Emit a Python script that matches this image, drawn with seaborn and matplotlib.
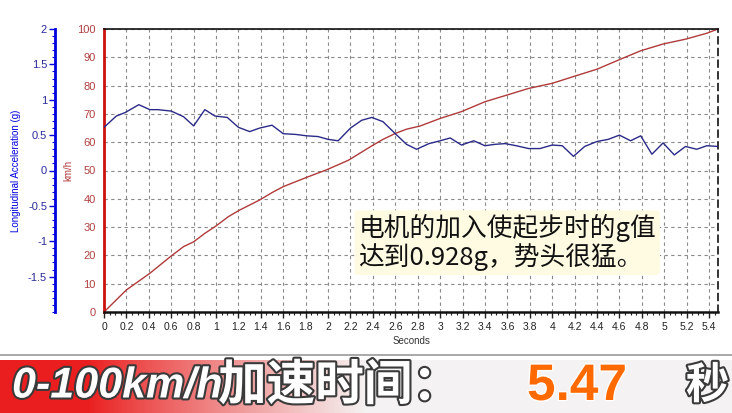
import numpy as np
import pandas as pd
import matplotlib
matplotlib.use("Agg")
import matplotlib.pyplot as plt
import matplotlib.patheffects as pe
from matplotlib.ticker import MultipleLocator, FuncFormatter
import seaborn as sns

# === Data
speed_t = [0.0, 0.2, 0.41, 0.6, 0.71, 0.8, 0.9, 1.0, 1.11, 1.21, 1.39, 1.5, 1.6, 1.81,
           1.99, 2.18, 2.39, 2.49, 2.6, 2.7, 2.82, 3.0, 3.19, 3.4, 3.6, 3.79, 4.0,
           4.19, 4.4, 4.59, 4.79, 4.99, 5.19, 5.38, 5.48]
speed_kmh = [0.0, 7.8, 13.7, 19.8, 23.1, 24.8, 27.8, 30.4, 33.7, 36.0, 39.6, 42.2, 44.3, 47.6,
             50.3, 53.6, 58.7, 61.0, 63.1, 64.6, 65.7, 68.4, 70.8, 74.3, 76.7, 79.0, 80.8,
             83.2, 85.8, 89.0, 92.3, 94.7, 96.4, 98.5, 100.0]

acc_t = [0.0, 0.11, 0.19, 0.31, 0.41, 0.48, 0.6, 0.71, 0.8, 0.9, 0.99, 1.1, 1.2, 1.3,
         1.39, 1.5, 1.6, 1.71, 1.81, 1.91, 2.0, 2.09, 2.2, 2.3, 2.39, 2.49, 2.6, 2.7,
         2.79, 2.9, 3.0, 3.09, 3.19, 3.3, 3.4, 3.49, 3.58, 3.68, 3.79, 3.89, 4.0, 4.09,
         4.19, 4.29, 4.4, 4.5, 4.6, 4.7, 4.79, 4.89, 4.99, 5.09, 5.19, 5.29, 5.38, 5.48]
acc_g = [0.61, 0.77, 0.82, 0.93, 0.86, 0.86, 0.84, 0.76, 0.63, 0.86, 0.77, 0.75, 0.61, 0.55,
         0.60, 0.64, 0.52, 0.51, 0.49, 0.48, 0.44, 0.42, 0.60, 0.71, 0.75, 0.69, 0.52, 0.37,
         0.30, 0.38, 0.42, 0.46, 0.36, 0.42, 0.35, 0.37, 0.38, 0.35, 0.31, 0.31, 0.36, 0.35,
         0.20, 0.34, 0.41, 0.44, 0.50, 0.42, 0.49, 0.23, 0.39, 0.22, 0.34, 0.30, 0.35, 0.34]

x_ticks = [round(0.2 * i, 1) for i in range(28)]
kmh_ticks = list(range(0, 101, 10))
g_ticks = [-1.5, -1, -0.5, 0, 0.5, 1, 1.5, 2]

note = "电机的加入使起步时的g值\n达到0.928g，势头很猛。"
banner_latin = "0-100km/h"
banner_cjk = "加速时间："
banner_value = "5.47"
banner_unit = "秒"

df_speed = pd.DataFrame({"t": speed_t, "v": speed_kmh})
df_acc = pd.DataFrame({"t": acc_t, "g": acc_g})

sns.set_theme(style="white")
plt.rcParams["font.family"] = ["Liberation Sans", "Noto Sans CJK SC", "DejaVu Sans"]

fig = plt.figure(figsize=(7.32, 4.13), dpi=100)
fig.patch.set_facecolor("white")

pos = [104 / 732, 1 - 312 / 413, 614 / 732, 283 / 413]
ax = fig.add_axes(pos)
ax2 = fig.add_axes(pos, sharex=ax)
ax2.patch.set_visible(False)

red = "#cc1111"
blue = "#0000dd"

# === speed (km/h)
sns.lineplot(data=df_speed, x="t", y="v", ax=ax, color="#b03a3a", lw=1.0)
ax.set_xlim(0, 5.48)
ax.set_ylim(0, 100)
ax.set_yticks(kmh_ticks)
ax.set_xticks(x_ticks)
ax.xaxis.set_major_formatter(FuncFormatter(lambda v, p: f"{v:g}"))
ax.xaxis.set_minor_locator(MultipleLocator(0.05))
ax.grid(True, color="#8a8a8a", ls=(0, (3, 3)), lw=0.8)
ax.set_xlabel("Seconds", fontsize=7, color="#333333", labelpad=3)
ax.set_ylabel("km/h", fontsize=7, color="#b03a3a", labelpad=3)
ax.tick_params(axis="y", colors="#b04040", labelsize=8, length=4, width=1,
               direction="out", pad=2)
ax.tick_params(axis="y", which="major", color=red)
ax.tick_params(axis="x", labelsize=7.5, colors="#222222", length=4, width=1, pad=3,
               direction="out", bottom=True)
ax.tick_params(axis="x", which="minor", length=2, width=0.8, bottom=True, color="#222222")
ax.spines["left"].set_color(red)
ax.spines["left"].set_linewidth(2)
ax.spines["bottom"].set_color("#111111")
ax.spines["bottom"].set_linewidth(1.8)
ax.spines["top"].set_color("#111111")
ax.spines["top"].set_linewidth(1.2)
ax.spines["right"].set_color("#111111")
ax.spines["right"].set_linestyle((0, (4, 3)))
ax.spines["right"].set_linewidth(1.2)

# === acceleration (g)
sns.lineplot(data=df_acc, x="t", y="g", ax=ax2, color="#2a2a88", lw=1.0)
ax2.set_ylim(-2, 2)
ax2.set_yticks(g_ticks)
ax2.yaxis.set_major_formatter(FuncFormatter(lambda v, p: f"{v:g}"))
ax2.yaxis.set_minor_locator(MultipleLocator(0.1))
ax2.set_xlabel("")
ax2.set_ylabel("Longitudinal Acceleration (g)", fontsize=7, color=blue, labelpad=5)
ax2.tick_params(axis="x", bottom=False, labelbottom=False)
ax2.tick_params(axis="y", colors="#2a2a99", labelsize=8, length=4, width=1, left=True,
                direction="out", pad=2)
ax2.tick_params(axis="y", which="major", color=blue)
ax2.tick_params(axis="y", which="minor", length=2, width=0.8, left=True, color=blue)
for s in ["top", "right", "bottom"]:
    ax2.spines[s].set_visible(False)
ax2.spines["left"].set_position(("outward", 35))
ax2.spines["left"].set_color(blue)
ax2.spines["left"].set_linewidth(2)

# === annotation
ax.text(2.27, 24.5, note, fontsize=18.5, color="#111111", ha="left", va="center",
        linespacing=1.05, family=["Noto Sans CJK SC", "DejaVu Sans"], style="italic",
        bbox=dict(boxstyle="round,pad=0.15", facecolor="#fffbe3", edgecolor="none"),
        zorder=5)

# === separator and banner
fig.add_artist(plt.Line2D([0, 1], [1 - 355 / 413, 1 - 355 / 413], color="#999999", lw=1.2))
bax = fig.add_axes([0, 0, 1, 53 / 413])
bax.set_axis_off()
xs = np.linspace(0, 1, 400)
w = np.clip((xs - 0.12) / 0.38, 0, 1) ** 0.9
r = 0.92 * (1 - w) + 0.96 * w
g = 0.12 * (1 - w) + 0.95 * w
b = 0.12 * (1 - w) + 0.95 * w
grad = np.dstack([r, g, b]).repeat(20, axis=0)
bax.imshow(grad, aspect="auto", extent=[0, 1, 0, 1])
bax.set_xlim(0, 1)
bax.set_ylim(0, 1)
stroke = [pe.withStroke(linewidth=3, foreground="#3a3a3a")]
bfam = ["Noto Sans CJK SC", "DejaVu Sans"]
bax.text(12 / 732, 0.50, banner_latin, fontsize=31, color="white", weight="bold",
         style="italic", family=["Liberation Sans"], ha="left", va="center",
         path_effects=stroke)
bax.text(218 / 732, 0.52, banner_cjk, fontsize=35, color="white", weight="black",
         family=bfam, ha="left", va="center", path_effects=stroke)
bax.text(527 / 732, 0.50, banner_value, fontsize=37, color="#ff6a00", weight="bold",
         family=["Liberation Sans"], ha="left", va="center",
         path_effects=[pe.withStroke(linewidth=2, foreground="#ffffff")])
bax.text(686 / 732, 0.52, banner_unit, fontsize=31, color="white", weight="black",
         family=bfam, ha="left", va="center", path_effects=stroke)

fig.savefig("out.png", dpi=100)
